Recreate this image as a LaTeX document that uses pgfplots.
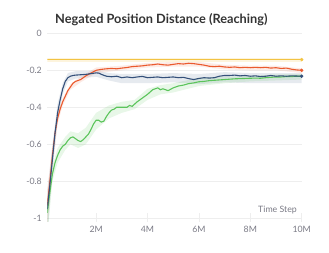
\documentclass[border=0pt]{standalone}
\usepackage{pgfplots}
\pgfplotsset{compat=1.18}
\usepackage{pgfplotstable}
\usepgfplotslibrary{fillbetween}
\usepackage{fontspec}
\setmainfont{Lato}
\definecolor{cor}{HTML}{EA5A2E}
\definecolor{cbl}{HTML}{34507A}
\definecolor{cgr}{HTML}{5BC45B}
\definecolor{cye}{HTML}{F2C343}
\definecolor{tickc}{HTML}{7A7A85}
\definecolor{gridc}{HTML}{EEEEEE}

\pgfplotstableread{
x y
0.1 -0.95
0.2 -0.82
0.3 -0.68
0.4 -0.54
0.5 -0.43
0.6 -0.36
0.7 -0.30
0.8 -0.26
0.9 -0.24
1.0 -0.232
1.1 -0.228
1.2 -0.226
1.4 -0.224
1.6 -0.222
1.8 -0.218
2.0 -0.214
2.1 -0.215
2.2 -0.222
2.4 -0.232
2.6 -0.235
2.8 -0.232
3.0 -0.240
3.2 -0.236
3.4 -0.240
3.6 -0.236
3.8 -0.233
4.0 -0.240
4.2 -0.238
4.4 -0.236
4.6 -0.240
4.8 -0.238
5.0 -0.236
5.2 -0.240
5.4 -0.238
5.6 -0.245
5.8 -0.250
6.0 -0.244
6.2 -0.240
6.4 -0.242
6.6 -0.240
6.8 -0.232
7.0 -0.228
7.2 -0.228
7.4 -0.226
7.6 -0.230
7.8 -0.228
8.0 -0.232
8.2 -0.230
8.4 -0.234
8.6 -0.232
8.8 -0.228
9.0 -0.232
9.2 -0.230
9.4 -0.232
9.6 -0.230
9.8 -0.231
10.0 -0.232
}\tblue

\pgfplotstableread{
x y
0.1 -0.93
0.2 -0.80
0.3 -0.66
0.4 -0.54
0.5 -0.46
0.6 -0.41
0.7 -0.37
0.8 -0.34
0.9 -0.31
1.0 -0.29
1.1 -0.27
1.2 -0.26
1.4 -0.25
1.6 -0.23
1.8 -0.215
2.0 -0.20
2.2 -0.195
2.4 -0.192
2.6 -0.190
2.8 -0.192
3.0 -0.188
3.2 -0.185
3.4 -0.180
3.6 -0.178
3.8 -0.176
4.0 -0.172
4.2 -0.170
4.4 -0.166
4.6 -0.170
4.8 -0.172
5.0 -0.168
5.2 -0.164
5.4 -0.166
5.6 -0.162
5.8 -0.164
6.0 -0.168
6.2 -0.172
6.4 -0.178
6.6 -0.180
6.8 -0.178
7.0 -0.182
7.2 -0.184
7.4 -0.182
7.6 -0.186
7.8 -0.184
8.0 -0.186
8.2 -0.184
8.4 -0.186
8.6 -0.184
8.8 -0.188
9.0 -0.186
9.2 -0.190
9.4 -0.188
9.6 -0.194
9.8 -0.198
10.0 -0.200
}\torange

\pgfplotstableread{
x y
0.1 -0.97
0.2 -0.86
0.3 -0.76
0.4 -0.70
0.5 -0.66
0.6 -0.63
0.7 -0.61
0.8 -0.60
0.9 -0.58
1.0 -0.565
1.1 -0.56
1.2 -0.57
1.3 -0.58
1.4 -0.585
1.5 -0.575
1.6 -0.56
1.7 -0.545
1.8 -0.52
1.9 -0.49
2.0 -0.47
2.1 -0.47
2.2 -0.48
2.3 -0.475
2.4 -0.45
2.5 -0.43
2.6 -0.415
2.7 -0.41
2.8 -0.40
3.0 -0.40
3.2 -0.40
3.3 -0.39
3.4 -0.395
3.6 -0.37
3.8 -0.35
4.0 -0.33
4.2 -0.305
4.4 -0.295
4.5 -0.305
4.6 -0.30
4.8 -0.31
5.0 -0.295
5.2 -0.285
5.4 -0.28
5.6 -0.272
5.8 -0.268
6.0 -0.262
6.2 -0.260
6.4 -0.256
6.6 -0.254
6.8 -0.252
7.0 -0.250
7.2 -0.248
7.4 -0.246
7.6 -0.245
7.8 -0.244
8.0 -0.243
8.2 -0.242
8.4 -0.243
8.6 -0.240
8.8 -0.238
9.0 -0.236
9.2 -0.236
9.4 -0.234
9.6 -0.234
9.8 -0.232
10.0 -0.232
}\tgreen

\pgfplotstableread{
x lo hi
0.1 -1.10 -0.85
0.3 -0.75 -0.60
0.5 -0.48 -0.38
0.7 -0.33 -0.27
0.9 -0.26 -0.215
1.2 -0.245 -0.205
1.6 -0.24 -0.205
2.0 -0.235 -0.20
2.5 -0.255 -0.215
3.0 -0.27 -0.22
4.0 -0.27 -0.22
5.0 -0.265 -0.215
6.0 -0.275 -0.22
7.0 -0.265 -0.21
8.0 -0.27 -0.215
9.0 -0.27 -0.215
10.0 -0.27 -0.215
}\tblueband

\pgfplotstableread{
x lo hi
0.1 -1.05 -0.85
0.3 -0.72 -0.61
0.5 -0.49 -0.43
0.7 -0.39 -0.35
1.0 -0.305 -0.275
1.4 -0.265 -0.235
2.0 -0.215 -0.185
3.0 -0.20 -0.175
4.0 -0.185 -0.16
5.0 -0.18 -0.155
6.0 -0.18 -0.155
7.0 -0.195 -0.17
8.0 -0.20 -0.175
9.0 -0.20 -0.175
10.0 -0.215 -0.19
}\torangeband

\pgfplotstableread{
x lo hi
0.1 -1.10 -0.90
0.3 -0.80 -0.72
0.5 -0.70 -0.62
0.8 -0.63 -0.56
1.0 -0.60 -0.53
1.3 -0.62 -0.54
1.6 -0.60 -0.51
2.0 -0.52 -0.43
2.5 -0.46 -0.39
3.0 -0.43 -0.37
3.5 -0.41 -0.36
4.0 -0.36 -0.30
4.5 -0.33 -0.28
5.0 -0.32 -0.27
6.0 -0.285 -0.24
7.0 -0.27 -0.235
8.0 -0.26 -0.23
9.0 -0.255 -0.222
10.0 -0.25 -0.22
}\tgreenband

\begin{document}
\begin{tikzpicture}
\begin{axis}[
  at={(47.3bp,31bp)}, anchor=south west,
  scale only axis, width=254.4bp, height=192.4bp,
  xmin=0.1, xmax=10, ymin=-1.02, ymax=0.02,
  axis line style={draw=none},
  xtick={2,4,6,8,10}, xticklabels={2M,4M,6M,8M,10M},
  ytick={-1,-0.8,-0.6,-0.4,-0.2,0},
  yticklabels={-1,-0.8,-0.6,-0.4,-0.2,0},
  xtick pos=bottom, ytick pos=left,
  tick align=inside,
  major tick length=9bp,
  x tick style={draw=gridc, line width=0.8pt},
  y tick style={draw=none},
  ymajorgrids, grid style={draw=gridc, line width=0.8pt},
  tick label style={font=\fontsize{8.8}{10}\selectfont, text=tickc},
  xticklabel style={yshift=-1bp},
  yticklabel style={xshift=-2bp},
]
\addplot[name path=yu, draw=none, forget plot] coordinates {(0.1,-0.131) (10,-0.131)};
\addplot[name path=yl, draw=none, forget plot] coordinates {(0.1,-0.153) (10,-0.153)};
\addplot[fill=cye, fill opacity=0.18, draw=none] fill between[of=yu and yl];

\addplot[name path=bu, draw=none, forget plot] table[x=x,y=hi]{\tblueband};
\addplot[name path=bl, draw=none, forget plot] table[x=x,y=lo]{\tblueband};
\addplot[fill=cbl, fill opacity=0.12, draw=none] fill between[of=bu and bl];

\addplot[name path=ou, draw=none, forget plot] table[x=x,y=hi]{\torangeband};
\addplot[name path=ol, draw=none, forget plot] table[x=x,y=lo]{\torangeband};
\addplot[fill=cor, fill opacity=0.12, draw=none] fill between[of=ou and ol];

\addplot[name path=gu, draw=none, forget plot] table[x=x,y=hi]{\tgreenband};
\addplot[name path=gl, draw=none, forget plot] table[x=x,y=lo]{\tgreenband};
\addplot[fill=cgr, fill opacity=0.14, draw=none] fill between[of=gu and gl];

\addplot[cye, line width=1.8bp] coordinates {(0.1,-0.142) (10,-0.142)};
\addplot[cgr, line width=1.1bp] table[x=x,y=y]{\tgreen};
\addplot[cor, line width=1.1bp] table[x=x,y=y]{\torange};
\addplot[cbl, line width=1.1bp] table[x=x,y=y]{\tblue};

\addplot[only marks, mark=*, mark size=1.5bp, cye] coordinates {(10,-0.142)};
\addplot[only marks, mark=*, mark size=1.5bp, cor] coordinates {(10,-0.200)};
\addplot[only marks, mark=*, mark size=1.5bp, cbl] coordinates {(10,-0.232)};
\end{axis}
\node[anchor=west, inner sep=0pt, font=\fontsize{12.8}{14}\selectfont\bfseries, text={black!80}] at (55bp,233bp) {Negated Position Distance (Reaching)};
\node[anchor=east, inner sep=0pt, font=\fontsize{8.8}{10}\selectfont, text=tickc] at (297bp,43bp) {Time Step};
\path (0,0) rectangle (329bp,253bp);
\end{tikzpicture}
\end{document}
